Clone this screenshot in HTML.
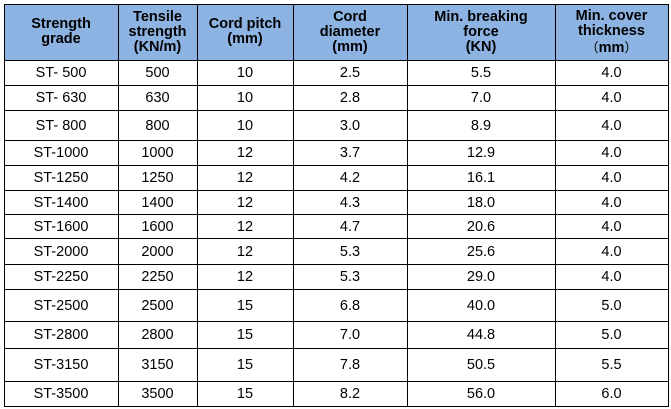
<!DOCTYPE html>
<html><head><meta charset="utf-8"><style>
body{margin:0;width:671px;height:409px;background:#fff;position:relative;overflow:hidden;font-family:"Liberation Sans",Arial,sans-serif;}
.c{position:absolute;display:flex;align-items:center;justify-content:center;text-align:center;font-size:14.5px;color:#000;line-height:15px;}
.b{font-weight:bold;font-size:14.5px;line-height:15px;}
.hl{position:absolute;background:#000;height:1px;left:4px;width:664px;}
.vl{position:absolute;background:#000;width:1px;top:4px;height:403px;}
.p{font-family:"Noto Sans CJK SC",sans-serif;font-weight:normal;font-size:13px;}
</style></head><body>
<div style="position:absolute;left:4px;top:4px;width:664px;height:56px;background:#8db3e2"></div>
<div id="g"></div>
<script>
var xs=[4,118,197,293,407,555,668];
var ys=[4,60,85,110,140,165,190,214,238,264,289,321,348,381,406];
var hdr=["Strength<br>grade","Tensile<br>strength<br>(KN/m)","Cord pitch<br>(mm)","Cord<br>diameter<br>(mm)","Min. breaking<br>force<br>(KN)","Min. cover<br>thickness<br><span class=\"p\">（</span>mm<span class=\"p\">）</span>"];
var rows=[["ST- 500","500","10","2.5","5.5","4.0"],["ST- 630","630","10","2.8","7.0","4.0"],["ST- 800","800","10","3.0","8.9","4.0"],["ST-1000","1000","12","3.7","12.9","4.0"],["ST-1250","1250","12","4.2","16.1","4.0"],["ST-1400","1400","12","4.3","18.0","4.0"],["ST-1600","1600","12","4.7","20.6","4.0"],["ST-2000","2000","12","5.3","25.6","4.0"],["ST-2250","2250","12","5.3","29.0","4.0"],["ST-2500","2500","15","6.8","40.0","5.0"],["ST-2800","2800","15","7.0","44.8","5.0"],["ST-3150","3150","15","7.8","50.5","5.5"],["ST-3500","3500","15","8.2","56.0","6.0"]];
var h="";
for(var i=0;i<6;i++){h+='<div class="c b" style="left:'+xs[i]+'px;top:4px;width:'+(xs[i+1]-xs[i])+'px;height:56px"><div>'+hdr[i]+'</div></div>';}
for(var r=0;r<rows.length;r++){for(var i=0;i<6;i++){h+='<div class="c" style="left:'+xs[i]+'px;top:'+(ys[r+1]+1)+'px;width:'+(xs[i+1]-xs[i])+'px;height:'+(ys[r+2]-ys[r+1])+'px"><div>'+rows[r][i]+'</div></div>';}}
for(var j=0;j<ys.length;j++){h+='<div class="hl" style="top:'+ys[j]+'px"></div>';}
for(var k=0;k<xs.length;k++){h+='<div class="vl" style="left:'+xs[k]+'px"></div>';}
document.getElementById("g").innerHTML=h;
</script>
</body></html>
